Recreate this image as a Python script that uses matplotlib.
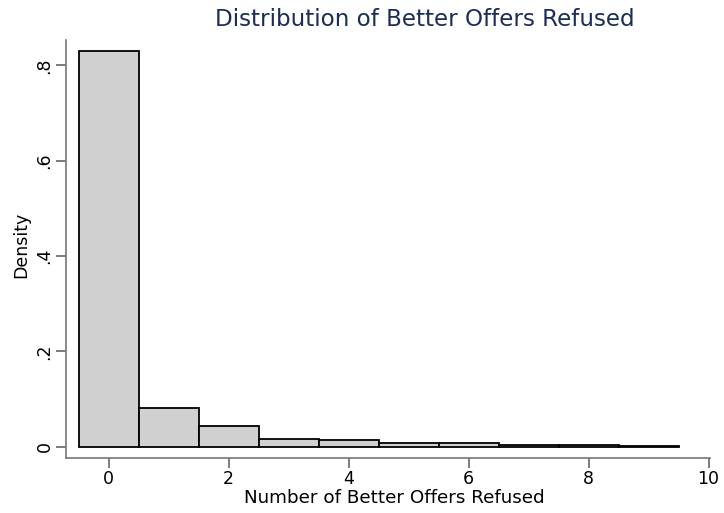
import matplotlib
matplotlib.use("Agg")
import matplotlib.pyplot as plt

bins = [0, 1, 2, 3, 4, 5, 6, 7, 8, 9]
density = [0.83, 0.080, 0.0435, 0.017, 0.0147, 0.0084, 0.0068, 0.0035, 0.0028, 0.001]
xticks = [0, 2, 4, 6, 8, 10]
yticks = [0, 0.2, 0.4, 0.6, 0.8]
yticklabels = ["0", ".2", ".4", ".6", ".8"]

fig = plt.figure(figsize=(7.24, 5.13), dpi=100)
ax = fig.add_axes([0.0912, 0.108, 0.89, 0.814])
ax.bar(bins, density, width=1.0, align="center", color="#d0d0d0", edgecolor="black", linewidth=1.3)
ax.set_xlim(-0.71, 10.03)
ax.set_ylim(-0.023, 0.853)
ax.set_xticks(xticks)
ax.set_yticks(yticks)
ax.set_yticklabels(yticklabels, rotation=90, va="center")
ax.tick_params(axis="both", direction="out", length=7, width=1.2, labelsize=12.5,
               colors="#666666", labelcolor="black", pad=2)
for s in ["top", "right"]:
    ax.spines[s].set_visible(False)
for s in ["left", "bottom"]:
    ax.spines[s].set_color("#777777")
    ax.spines[s].set_linewidth(1.2)
ax.set_xlabel("Number of Better Offers Refused", fontsize=13.2, labelpad=0)
ax.xaxis.set_label_coords(0.51, -0.076)
ax.set_ylabel("Density", fontsize=12.5, labelpad=4)
ax.yaxis.set_label_coords(-0.056, 0.51)
fig.text(0.587, 0.962, "Distribution of Better Offers Refused", ha="center", va="center",
         fontsize=16.6, color="#1c2d59")
fig.savefig("out.png", dpi=100)
